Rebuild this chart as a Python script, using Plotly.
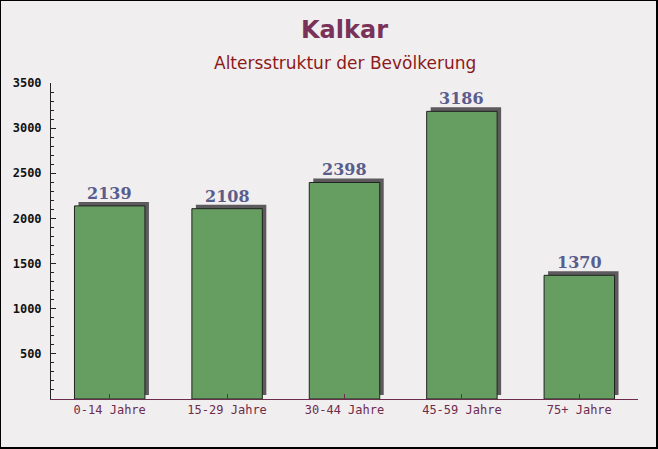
import plotly.graph_objects as go

categories = ["0-14 Jahre", "15-29 Jahre", "30-44 Jahre", "45-59 Jahre", "75+ Jahre"]
values = [2139, 2108, 2398, 3186, 1370]
y_ticks = [500, 1000, 1500, 2000, 2500, 3000, 3500]

W, H = 658, 449
ml, mr, mt, mb = 51, 20, 83, 50
plot_w = W - ml - mr
plot_h = H - mt - mb
ymax = 3500
n = len(categories)

# shadow offsets in data units (about 4 px right and 4 px up)
dx = 4 / (plot_w / n)
dy = 4 * ymax / plot_h

fig = go.Figure()

# shadow bars
fig.add_trace(go.Bar(
    x=list(range(n)), y=values, base=[dy] * n,
    width=0.6, offset=-0.3 + dx,
    marker=dict(color="#5c5a5c", line=dict(width=0)),
    hoverinfo="skip", showlegend=False,
))
# main bars
fig.add_trace(go.Bar(
    x=list(range(n)), y=values,
    width=0.6, offset=-0.3,
    marker=dict(color="#669e62", line=dict(color="#222222", width=1)),
    showlegend=False,
))

annotations = [
    dict(x=i, y=v, xref="x", yref="y", text=f"<b>{v}</b>", showarrow=False,
         yanchor="bottom", yshift=1,
         font=dict(family="DejaVu Serif", size=16, color="#595d8c"))
    for i, v in enumerate(values)
]
annotations += [
    dict(x=0.5, y=1 + (mt - 30) / plot_h, xref="paper", yref="paper",
         text="<b>Kalkar</b>", showarrow=False, xanchor="center", yanchor="middle",
         font=dict(family="DejaVu Sans", size=24, color="#7a3358")),
    dict(x=0.5, y=1 + (mt - 63) / plot_h, xref="paper", yref="paper",
         text="Altersstruktur der Bevölkerung", showarrow=False,
         xanchor="center", yanchor="middle",
         font=dict(family="DejaVu Sans", size=17, color="#8b1a1a")),
]

fig.update_layout(
    width=W, height=H,
    margin=dict(l=ml, r=mr, t=mt, b=mb),
    paper_bgcolor="#f1eeef",
    plot_bgcolor="rgba(0,0,0,0)",
    barmode="overlay",
    annotations=annotations,
    xaxis=dict(
        range=[-0.5, n - 0.5],
        tickmode="array", tickvals=list(range(n)), ticktext=categories,
        tickson="boundaries", ticks="inside", ticklen=5, tickcolor="#6d2c4c",
        showline=True, linecolor="#6d2c4c", linewidth=1,
        showgrid=False, zeroline=False,
        tickfont=dict(family="DejaVu Sans Mono", size=12, color="#6d2c4c"),
    ),
    yaxis=dict(
        range=[0, ymax],
        tickmode="array", tickvals=y_ticks,
        ticks="inside", ticklen=5, tickcolor="#222222",
        ticklabelstandoff=6,
        showline=True, linecolor="#222222", linewidth=1,
        showgrid=False, zeroline=False,
        minor=dict(dtick=100, ticks="inside", ticklen=3, tickcolor="#222222", showgrid=False),
        tickfont=dict(family="DejaVu Sans Mono", size=12, color="#111111", weight="bold"),
    ),
    shapes=[dict(type="rect", xref="paper", yref="paper",
                 x0=-ml / plot_w, x1=1 + (mr - 1) / plot_w,
                 y0=-(mb - 1) / plot_h, y1=1 + mt / plot_h,
                 line=dict(color="#000000", width=2), fillcolor="rgba(0,0,0,0)")],
)

fig.write_html("out.html",
               config={"displayModeBar": False},
               post_script="document.body.style.margin='0';document.body.style.overflow='hidden';")
